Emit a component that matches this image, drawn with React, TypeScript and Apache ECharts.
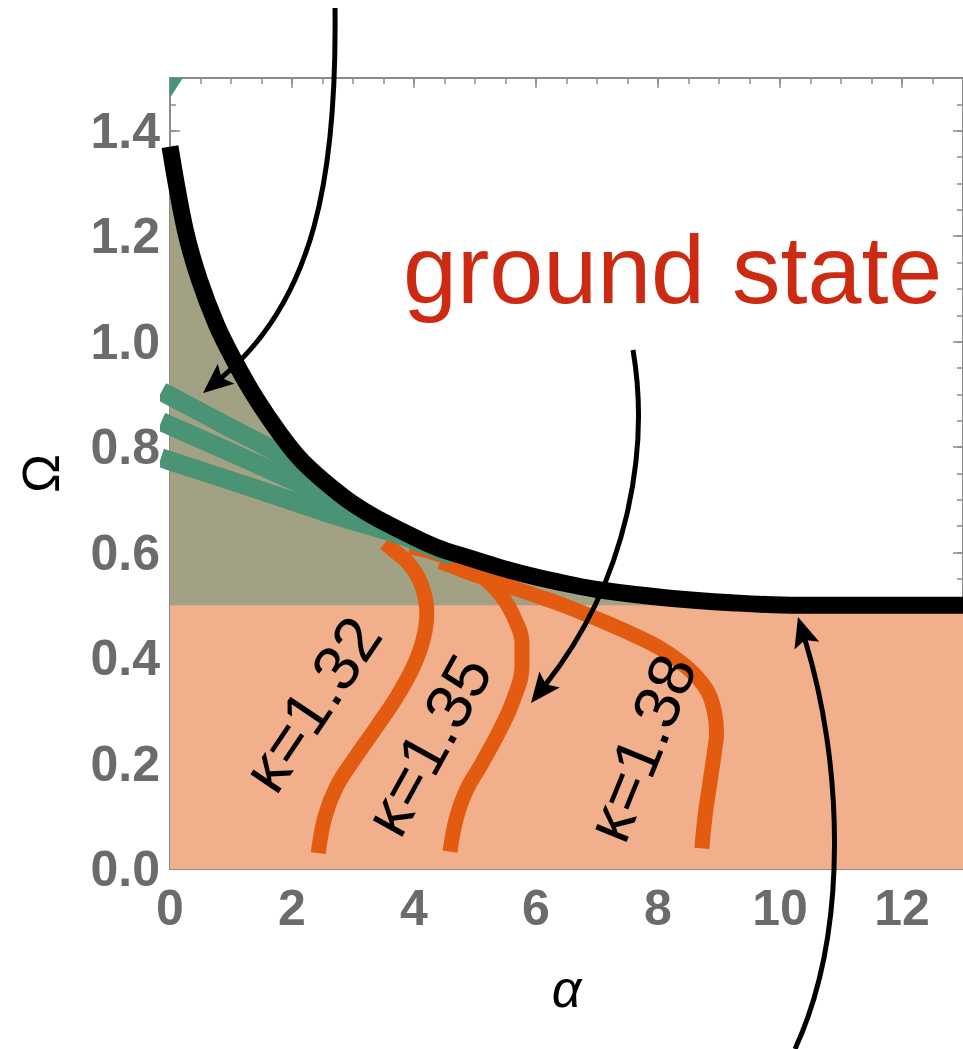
import React, { useEffect, useRef } from "react";
import * as echarts from "echarts";

// ---- data ----
const alphaRange = [0, 13];
const omegaRange = [0, 1.5];

// thick black boundary curve Ω(α)
const boundaryCurve: number[][] = [
  [0, 1.37], [0.25, 1.212], [0.48, 1.118], [0.77, 1.03], [1.05, 0.965],
  [1.39, 0.896], [1.8, 0.826], [2.18, 0.772], [2.84, 0.706], [3.3, 0.671],
  [3.85, 0.638], [4.35, 0.611], [4.87, 0.591], [5.4, 0.572], [5.95, 0.555],
  [6.5, 0.541], [7.05, 0.529], [8.15, 0.514], [9.2, 0.505], [10.3, 0.5], [13, 0.5],
];

// lower (ground state) region Ω < 0.5
const groundLevel: number[][] = [[0, 0.5], [13, 0.5]];

// green sliver in the upper-left corner
const cornerBand: number[][] = [[0, 1.462], [0.21, 1.5]];

// three green bands fanning out from the Ω axis
const bandTop: number[][] = [[0, 0.897], [0.9, 0.842], [1.8, 0.787], [2.4, 0.738], [3.0, 0.688]];
const bandMid: number[][] = [[0, 0.841], [0.9, 0.795], [1.77, 0.75], [2.7, 0.701], [3.4, 0.66], [4.0, 0.624]];
const bandLow: number[][] = [[0, 0.774], [1.35, 0.723], [2.7, 0.671], [3.6, 0.64], [4.0, 0.624], [4.5, 0.6]];

// orange κ curves
const kappa132: number[][] = [
  [2.43, 0.03], [2.54, 0.099], [2.73, 0.156], [3.01, 0.207], [3.39, 0.27],
  [3.72, 0.327], [3.99, 0.384], [4.15, 0.435], [4.21, 0.485], [4.13, 0.536],
  [3.93, 0.577], [3.66, 0.605], [3.52, 0.618],
];
const kappa135: number[][] = [
  [4.59, 0.033], [4.7, 0.099], [4.86, 0.15], [5.11, 0.2], [5.41, 0.264],
  [5.63, 0.321], [5.77, 0.384], [5.77, 0.428], [5.66, 0.472], [5.44, 0.517],
  [5.11, 0.555], [4.7, 0.583], [4.26, 0.602], [3.93, 0.611],
];
const kappa138: number[][] = [
  [8.72, 0.039], [8.77, 0.099], [8.85, 0.163], [8.93, 0.226], [8.96, 0.257],
  [8.93, 0.295], [8.83, 0.333], [8.63, 0.365], [8.36, 0.393], [8.03, 0.419],
  [7.6, 0.444], [7.05, 0.472], [6.5, 0.498], [5.96, 0.52], [5.41, 0.542],
  [4.86, 0.564], [4.43, 0.583],
];
const kappaLabels = ["κ=1.32", "κ=1.35", "κ=1.38"];
const regionLabel = "ground state";

// ---- styles ----
const FONT = "'Liberation Sans', Arial, Helvetica, sans-serif";
const AXIS_GRAY = "#8c8c8c";
const LABEL_GRAY = "#6b6b6b";
const GREEN = "#4a9375";
const OLIVE = "#a3a183";
const SALMON = "#f2af8c";
const ORANGE = "#e35b10";

function arrow(p0: number[], p1: number[], p2: number[], tip: number[]) {
  const L = 30, W = 13, notch = 6;
  const dx = tip[0] - p2[0], dy = tip[1] - p2[1];
  const len = Math.hypot(dx, dy);
  const ux = dx / len, uy = dy / len;
  const nx = -uy, ny = ux;
  const bx = tip[0] - ux * L, by = tip[1] - uy * L;
  const ex = tip[0] - ux * (L - notch), ey = tip[1] - uy * (L - notch);
  return [
    {
      type: "bezierCurve", z: 100,
      shape: { x1: p0[0], y1: p0[1], cpx1: p1[0], cpy1: p1[1], cpx2: p2[0], cpy2: p2[1], x2: ex, y2: ey },
      style: { stroke: "#000", lineWidth: 5, fill: null },
    },
    {
      type: "polygon", z: 101,
      shape: { points: [tip, [bx + nx * W, by + ny * W], [ex, ey], [bx - nx * W, by - ny * W]] },
      style: { fill: "#000" },
    },
  ];
}

function majorAxis(dim: "x" | "y", position: string, showLabel: boolean) {
  const isX = dim === "x";
  const a: any = {
    type: "value",
    position,
    min: isX ? alphaRange[0] : omegaRange[0],
    max: isX ? alphaRange[1] : omegaRange[1],
    interval: isX ? 2 : 0.2,
    axisLine: { show: true, onZero: false, lineStyle: { color: AXIS_GRAY, width: 2 } },
    axisTick: { show: true, inside: true, length: 10, lineStyle: { color: AXIS_GRAY, width: 1.5 } },
    splitLine: { show: false },
    axisLabel: {
      show: showLabel,
      showMaxLabel: false,
      margin: isX ? 14 : 10,
      fontSize: 50,
      fontWeight: "bold",
      fontFamily: FONT,
      color: LABEL_GRAY,
      formatter: (v: number) => (isX ? String(Math.round(v)) : v.toFixed(1)),
    },
  };
  if (showLabel && isX) {
    a.name = "α";
    a.nameLocation = "middle";
    a.nameGap = 94;
    a.nameTextStyle = { fontSize: 52, fontStyle: "italic", color: "#000", fontFamily: FONT };
  }
  if (showLabel && !isX) {
    a.name = "Ω";
    a.nameLocation = "middle";
    a.nameRotate = 90;
    a.nameGap = 103;
    a.nameTextStyle = { fontSize: 52, color: "#000", fontFamily: FONT };
  }
  return a;
}

function minorAxis(dim: "x" | "y", position: string) {
  const isX = dim === "x";
  return {
    type: "value",
    position,
    min: isX ? alphaRange[0] : omegaRange[0],
    max: isX ? alphaRange[1] : omegaRange[1],
    interval: isX ? 0.5 : 0.05,
    axisLine: { show: false, onZero: false },
    axisTick: { show: true, inside: true, length: 6, lineStyle: { color: AXIS_GRAY, width: 1.5 } },
    splitLine: { show: false },
    axisLabel: { show: false },
  };
}

function lineSeries(data: number[][], color: string, width: number, extra: any = {}) {
  return {
    type: "line",
    data,
    xAxisIndex: 0,
    yAxisIndex: 0,
    symbol: "none",
    silent: true,
    lineStyle: { color, width },
    ...extra,
  };
}

export default function App() {
  const ref = useRef<HTMLDivElement>(null);

  useEffect(() => {
    if (!ref.current) return;
    const chart = echarts.init(ref.current, null, { renderer: "svg" });

    const bandStyle = { color: GREEN, width: 19, cap: "square" };
    const option: any = {
      animation: false,
      backgroundColor: "#fff",
      grid: { left: 170, right: 0, top: 78, bottom: 180, containLabel: false },
      xAxis: [
        majorAxis("x", "bottom", true),
        minorAxis("x", "bottom"),
        majorAxis("x", "top", false),
        minorAxis("x", "top"),
      ],
      yAxis: [
        majorAxis("y", "left", true),
        minorAxis("y", "left"),
        majorAxis("y", "right", false),
        minorAxis("y", "right"),
      ],
      series: [
        // olive region under the boundary curve
        lineSeries(boundaryCurve, OLIVE, 0, {
          smooth: 0.35,
          lineStyle: { width: 0, opacity: 0 },
          areaStyle: { color: OLIVE, opacity: 1, origin: "start" },
        }),
        // salmon region Ω < 0.5
        lineSeries(groundLevel, SALMON, 0, {
          lineStyle: { width: 0, opacity: 0 },
          areaStyle: { color: SALMON, opacity: 1, origin: "start" },
        }),
        // green corner
        lineSeries(cornerBand, GREEN, 0, {
          lineStyle: { width: 0, opacity: 0 },
          areaStyle: { color: GREEN, opacity: 1, origin: "end" },
        }),
        // κ curves
        lineSeries(kappa132, ORANGE, 15, { smooth: 0.4 }),
        lineSeries(kappa135, ORANGE, 15, { smooth: 0.4 }),
        lineSeries(kappa138, ORANGE, 15, { smooth: 0.4 }),
        // green bands
        lineSeries(bandTop, GREEN, 19, { smooth: 0.3, lineStyle: bandStyle }),
        lineSeries(bandMid, GREEN, 19, { smooth: 0.3, lineStyle: bandStyle }),
        lineSeries(bandLow, GREEN, 19, { smooth: 0.3, lineStyle: bandStyle }),
        // black boundary curve
        lineSeries(boundaryCurve, "#000", 17, { smooth: 0.35 }),
      ],
      graphic: [
        {
          type: "text", z: 100, x: 403, y: 269,
          style: { text: regionLabel, fontSize: 97, fontFamily: FONT, fill: "#cc2a12", align: "left", verticalAlign: "middle" },
        },
        {
          type: "text", z: 100, x: 312, y: 704, rotation: (56 * Math.PI) / 180,
          style: { text: kappaLabels[0], fontSize: 64, fontFamily: FONT, fill: "#000", align: "center", verticalAlign: "middle" },
        },
        {
          type: "text", z: 100, x: 428, y: 745, rotation: (61 * Math.PI) / 180,
          style: { text: kappaLabels[1], fontSize: 64, fontFamily: FONT, fill: "#000", align: "center", verticalAlign: "middle" },
        },
        {
          type: "text", z: 100, x: 641, y: 748, rotation: (68 * Math.PI) / 180,
          style: { text: kappaLabels[2], fontSize: 64, fontFamily: FONT, fill: "#000", align: "center", verticalAlign: "middle" },
        },
        ...arrow([335, 8], [337, 175], [315, 300], [203, 393]),
        ...arrow([633, 350], [650, 450], [628, 580], [531, 703]),
        ...arrow([795, 1049], [850, 930], [842, 760], [798, 617]),
      ],
    };

    chart.setOption(option);
    return () => chart.dispose();
  }, []);

  return (
    <div
      ref={ref}
      style={{ position: "absolute", left: 0, top: 0, width: 963, height: 1049 }}
    />
  );
}
